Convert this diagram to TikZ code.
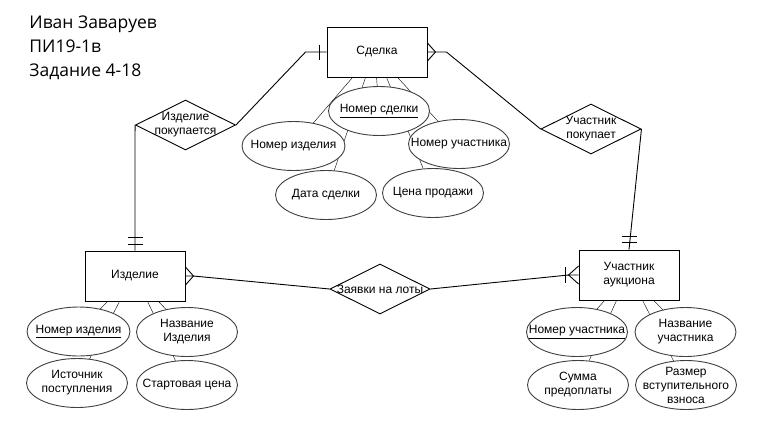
\documentclass[tikz,border=0pt]{standalone}
\usepackage{fontspec}
\setmainfont{Liberation Sans}
\newfontfamily\titlefont{Open Sans}
\usetikzlibrary{shapes.geometric, calc, backgrounds}

\begin{document}
\begin{tikzpicture}[x=1pt, y=-1pt, line width=0.9pt,
        font=\fontsize{12}{14}\selectfont,
        entity/.style={draw, rectangle, minimum width=100pt, minimum height=50pt, align=center, inner sep=0pt},
        relation/.style={draw, diamond, minimum width=100pt, minimum height=50pt, inner sep=0pt},
        attr/.style={draw=black!75, fill=white, ellipse, minimum width=101pt, minimum height=49pt, inner sep=0pt},
        inlabel/.style={label={[align=center, inner sep=0pt]center:#1}}]
        \useasboundingbox (0,0) rectangle (762,437);

        % Title
        \node[anchor=base west, inner sep=0pt, font=\titlefont\fontsize{17.5}{24}\selectfont] (author) at (29,28) {Иван Заваруев};
        \node[anchor=base west, inner sep=0pt, font=\titlefont\fontsize{17.5}{24}\selectfont] (group) at (29,52.5) {ПИ19-1в};
        \node[anchor=base west, inner sep=0pt, font=\titlefont\fontsize{17.5}{24}\selectfont] (task) at (29,76) {Задание 4-18};

        % Entities
        \node[entity] (sdelka) at (377,52) {Сделка};
        \node[entity] (izd) at (135,276) {Изделие};
        \node[entity] (uch) at (629,275) {Участник\\аукциона};

        % Relations
        \node[relation, inlabel={Изделие\\покупается}] (pokIzd) at (185.5,125) {};
        \node[relation, inlabel={Заявки на лоты}] (zayavki) at (380,289) {};
        \node[relation, inlabel={Участник\\покупает}] (pokUch) at (591,129) {};

        % Attributes of Сделка
        \node[attr, inlabel={\underline{Номер сделки}}] (nomSd) at (379,111) {};
        \node[attr, minimum width=103pt, inlabel={Номер изделия}] (nomIzd1) at (293.5,146) {};
        \node[attr, inlabel={Номер участника}] (nomUch1) at (459,144) {};
        \node[attr, inlabel={Дата сделки}] (data) at (326,195) {};
        \node[attr, inlabel={Цена продажи}] (cena) at (433,193) {};

        % Attributes of Изделие
        \node[attr, minimum width=103pt, inlabel={\underline{Номер изделия}}] (nomIzd2) at (78.5,331.5) {};
        \node[attr, inlabel={Название\\Изделия}] (nazv) at (187,332) {};
        \node[attr, inlabel={Источник\\поступления}] (ist) at (77,383) {};
        \node[attr, inlabel={Стартовая цена}] (start) at (187,385) {};

        % Attributes of Участник аукциона
        \node[attr, inlabel={\underline{Номер участника}}] (nomUch2) at (577,332) {};
        \node[attr, inlabel={Название\\участника}] (nazvUch) at (685.5,332) {};
        \node[attr, inlabel={Сумма\\предоплаты}] (summa) at (578,385) {};
        \node[attr, inlabel={Размер\\вступительного\\взноса}] (razmer) at (686,385) {};

        % attribute links (behind the ellipses)
        \begin{scope}[on background layer]
            \draw ($(sdelka.south west)+(26,0)$) -- (nomIzd1);
            \draw ($(sdelka.south west)+(39,0)$) -- (data);
            \draw ($(sdelka.south west)+(50,0)$) -- (nomSd);
            \draw ($(sdelka.south west)+(60,0)$) -- (cena);
            \draw ($(sdelka.south west)+(71,0)$) -- (nomUch1);

            \draw ($(izd.south west)+(23,0)$) -- (nomIzd2);
            \draw ($(izd.south west)+(35,0)$) -- (ist);
            \draw ($(izd.south west)+(63,0)$) -- (start);
            \draw ($(izd.south west)+(74,0)$) -- (nazv);

            \draw ($(uch.south west)+(26,0)$) -- (nomUch2);
            \draw ($(uch.south west)+(38,0)$) -- (summa);
            \draw ($(uch.south west)+(64,0)$) -- (razmer);
            \draw ($(uch.south west)+(75,0)$) -- (nazvUch);
        \end{scope}

        % Сделка -- Изделие покупается -- Изделие
        \draw (sdelka.west) -- ++(-21,0) -- (pokIzd.east);
        \draw ($(sdelka.west)+(-7,-7.5)$) -- ++(0,15);
        \draw (pokIzd.west) -- (izd.north);
        \draw ($(izd.north)+(-7.5,-6)$) -- ++(15,0);
        \draw ($(izd.north)+(-7.5,-13)$) -- ++(15,0);

        % Сделка -- Участник покупает -- Участник аукциона
        \draw (sdelka.east) -- ++(19,0) -- (pokUch.west);
        \draw ($(sdelka.east)+(0,-9)$) -- ++(8,9) -- ++(-8,9);
        \draw (pokUch.east) -- (uch.north);
        \draw ($(uch.north)+(-7.5,-7)$) -- ++(15,0);
        \draw ($(uch.north)+(-7.5,-13)$) -- ++(15,0);

        % Изделие -- Заявки на лоты -- Участник аукциона
        \draw (izd.east) -- ++(8,0) -- (zayavki.west);
        \draw ($(izd.east)+(0,-9)$) -- ++(8,9) -- ++(-8,9);
        \draw (zayavki.east) -- ($(uch.west)+(-10,0)$) -- (uch.west);
        \draw ($(uch.west)+(0,-9)$) -- ++(-10,9) -- ++(10,9);
        \draw ($(uch.west)+(-13,-8)$) -- ++(0,16);
\end{tikzpicture}
\end{document}
